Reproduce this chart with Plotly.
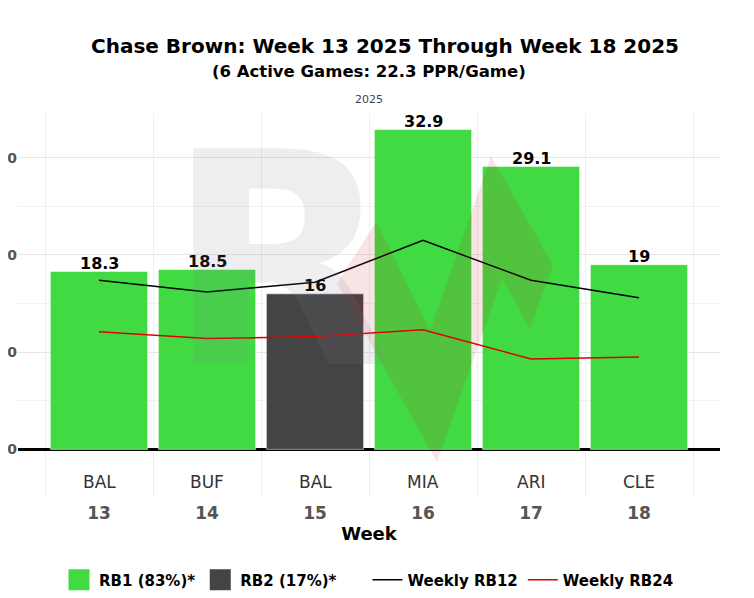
import plotly.graph_objects as go

weeks = ["13", "14", "15", "16", "17", "18"]
opponents = ["BAL", "BUF", "BAL", "MIA", "ARI", "CLE"]
ppr_points = [18.3, 18.5, 16, 32.9, 29.1, 19]
rb_role = ["RB1", "RB1", "RB2", "RB1", "RB1", "RB1"]
weekly_rb12 = [17.4, 16.2, 17.2, 21.5, 17.4, 15.6]
weekly_rb24 = [12.1, 11.4, 11.6, 12.3, 9.3, 9.5]

role_colors = {"RB1": "#42da42", "RB2": "#444444"}
role_legend = {"RB1": "RB1 (83%)*", "RB2": "RB2 (17%)*" + "&nbsp;" * 5}

FONT = "DejaVu Sans"

fig = go.Figure()

# weekly PPR bars, coloured by depth chart role
fig.add_trace(go.Bar(
    x=weeks, y=ppr_points,
    marker=dict(color=[role_colors[r] for r in rb_role], line=dict(width=1, color="rgba(255,255,255,0.5)")),
    width=0.9,
    showlegend=False,
    hoverinfo="skip",
))

# legend-only entries for the bar colours (bigger swatches)
for role in ["RB1", "RB2"]:
    fig.add_trace(go.Scatter(
        x=[None], y=[None], mode="markers", name=role_legend[role],
        marker=dict(symbol="square", size=16, color=role_colors[role],
                    line=dict(width=5, color=role_colors[role])),
    ))

fig.add_trace(go.Scatter(x=weeks, y=weekly_rb12, mode="lines", name="Weekly RB12",
                         line=dict(color="black", width=1.5)))
fig.add_trace(go.Scatter(x=weeks, y=weekly_rb24, mode="lines", name="Weekly RB24",
                         line=dict(color="#dd0000", width=1.5)))

# value labels above the bars, opponent labels under the zero line
for i, (pts, opp) in enumerate(zip(ppr_points, opponents)):
    fig.add_annotation(x=i, y=pts, text=f"{pts:g}", showarrow=False, yanchor="bottom", yshift=-3.5,
                       font=dict(family=FONT, size=16, color="black", weight="bold"))
    fig.add_annotation(x=i, y=-3.4, text=opp, showarrow=False, yanchor="middle",
                       font=dict(family=FONT, size=17, color="#333333"))

# faint logo watermark
fig.add_annotation(x=0.3735, y=0.614, xref="paper", yref="paper", text="<b>R</b>", showarrow=False,
                   font=dict(family=FONT, size=296, color="rgba(120,125,150,0.13)"))
fig.add_shape(type="path", xref="paper", yref="paper",
              path="M 0.4545 0.558 L 0.5104 0.717 L 0.5873 0.436 L 0.6738 0.888 L 0.7621 0.605 "
                   "L 0.7293 0.439 L 0.6895 0.571 L 0.5969 0.093 Z",
              fillcolor="rgba(200,30,30,0.12)", line=dict(width=0), layer="above")

fig.add_annotation(x=0.5, y=1.109, xref="paper", yref="paper", text="(6 Active Games: 22.3 PPR/Game)",
                   showarrow=False, yanchor="middle",
                   font=dict(family=FONT, size=16.5, color="black", weight="bold"))
fig.add_annotation(x=0.5, y=1.034, xref="paper", yref="paper", text="2025",
                   showarrow=False, yanchor="middle", font=dict(family=FONT, size=11, color="#444444"))

fig.update_layout(
    width=754, height=598,
    margin=dict(l=10, r=42, t=105, b=108, autoexpand=False),
    paper_bgcolor="white", plot_bgcolor="white",
    title=dict(text="Chase Brown: Week 13 2025 Through Week 18 2025", x=0.5, xanchor="center",
               y=1 - 38 / 598, yanchor="middle",
               font=dict(family=FONT, size=20, color="black", weight="bold")),
    xaxis=dict(type="category", range=[-0.75, 5.75], tickson="boundaries", showgrid=True,
               gridcolor="#eeeeee", ticks="", showline=False, zeroline=False, automargin=False,
               ticklabelstandoff=3,
               tickfont=dict(family=FONT, size=17, color="#555555", weight="bold"),
               title=dict(text="Week", standoff=5, font=dict(family=FONT, size=18, color="black", weight="bold"))),
    yaxis=dict(range=[-5, 34.6], dtick=10, showgrid=True, gridcolor="#e6e6e6",
               minor=dict(dtick=5, showgrid=True, gridcolor="#f1f1f1"),
               zeroline=True, zerolinecolor="black", zerolinewidth=3, automargin=False,
               tickfont=dict(family=FONT, size=14, color="#555555", weight="bold")),
    legend=dict(orientation="h", x=0.5, xanchor="center", y=-0.213, yanchor="middle",
                font=dict(family=FONT, size=15, color="black", weight="bold")),
    showlegend=True,
)

fig.write_html("out.html")
